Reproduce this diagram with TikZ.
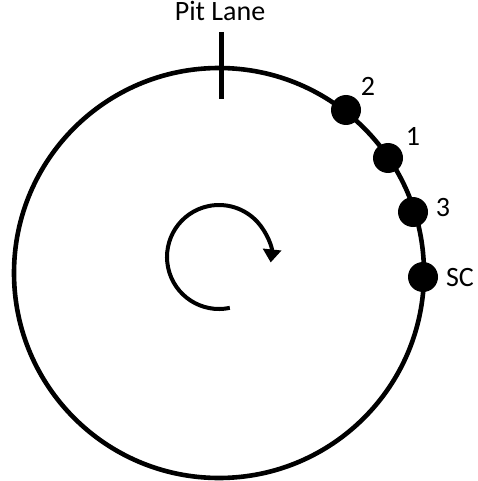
\documentclass[tikz,border=0pt]{standalone}
\usepackage{fontspec}
\setmainfont{Carlito}
\usetikzlibrary{arrows.meta}
\begin{document}
\begin{tikzpicture}[x=1pt,y=-1pt,
  track/.style={line width=4.6pt},
  car/.style={circle,fill=black,inner sep=0pt,minimum size=30pt},
  lbl/.style={font=\fontsize{28}{30}\selectfont,inner sep=0pt,anchor=base},
  rot/.style={line width=4pt,-{Triangle[width=18pt,length=13pt]}}]
\useasboundingbox (0,0) rectangle (478,481);
\coordinate (O) at (219,273);
\draw[track] (O) circle[radius=205];
\coordinate (pt) at (221,32);
\coordinate (pb) at (221,99);
\draw[line width=5pt] (pt) -- (pb);
\node[lbl] (pit) at (220,20.5) {Pit Lane};
\node[car] (c2) at (346,110) {};
\node[car] (c1) at (388,158) {};
\node[car] (c3) at (413,212) {};
\node[car] (sc) at (423,277) {};
\node[lbl] (l2) at (368,96) {2};
\node[lbl] (l1) at (413,146) {1};
\node[lbl] (l3) at (443,216) {3};
\node[lbl] (lsc) at (460,286) {SC};
\coordinate (ac) at (219,257);
\draw[rot] (ac) ++(78:52) arc[start angle=78, end angle=366, radius=52];
\end{tikzpicture}
\end{document}
